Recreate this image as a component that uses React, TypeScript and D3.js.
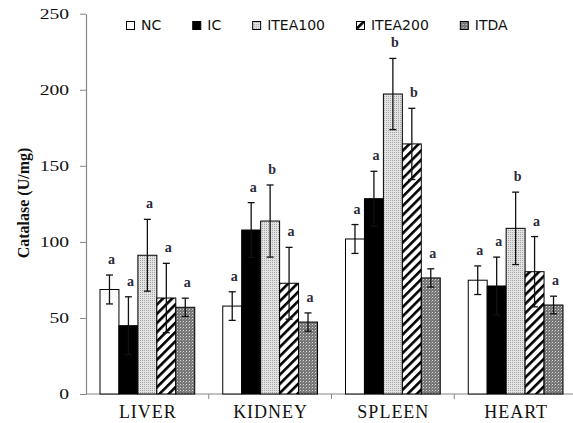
import React, { useEffect, useRef } from 'react';
import * as d3 from 'd3';

const categories = ['LIVER', 'KIDNEY', 'SPLEEN', 'HEART'];
const seriesNames = ['NC', 'IC', 'ITEA100', 'ITEA200', 'ITDA'];

// mean values per series, in category order
const ncValues = [68.7, 57.8, 101.9, 74.8];
const icValues = [44.9, 107.8, 128.4, 71];
const itea100Values = [91.2, 113.7, 197.2, 108.9];
const itea200Values = [63.1, 72.8, 164.4, 80.4];
const itdaValues = [57, 47.3, 76.3, 58.5];

// error bar half-lengths
const ncErrors = [9.5, 9.4, 9.5, 9.4];
const icErrors = [19, 18, 18, 19];
const itea100Errors = [23.6, 23.7, 23.4, 23.8];
const itea200Errors = [22.8, 23.6, 23.4, 23.1];
const itdaErrors = [6, 6, 6, 5.8];

// significance letters
const ncLetters = ['a', 'a', 'a', 'a'];
const icLetters = ['a', 'a', 'a', 'a'];
const itea100Letters = ['a', 'b', 'b', 'b'];
const itea200Letters = ['a', 'a', 'b', 'a'];
const itdaLetters = ['a', 'a', 'a', 'a'];

const yTicks = [0, 50, 100, 150, 200, 250];

const valueTable = [ncValues, icValues, itea100Values, itea200Values, itdaValues];
const errorTable = [ncErrors, icErrors, itea100Errors, itea200Errors, itdaErrors];
const letterTable = [ncLetters, icLetters, itea100Letters, itea200Letters, itdaLetters];

const AXIS = '#868686';
const fills: Record<string, string> = {
  NC: '#ffffff',
  IC: '#000000',
  ITEA100: 'url(#p-itea100)',
  ITEA200: 'url(#p-itea200)',
  ITDA: 'url(#p-itda)',
};

function drawChart(node: SVGSVGElement) {
  const svg = d3.select(node);
  svg.selectAll('*').remove();

  const left = 86;
  const bandWidth = 122.75;
  const x0 = d3.scaleBand<string>().domain(categories).range([left, left + bandWidth * categories.length]);
  const x1 = d3.scaleBand<string>().domain(seriesNames).range([14, bandWidth - 14]);
  const y = d3.scaleLinear().domain([0, 250]).range([394, 13.7]);

  const defs = svg.append('defs');

  const p100 = defs.append('pattern').attr('id', 'p-itea100').attr('patternUnits', 'userSpaceOnUse')
    .attr('width', 2).attr('height', 2);
  p100.append('rect').attr('width', 2).attr('height', 2).attr('fill', '#e2e2e2');
  p100.append('rect').attr('width', 1).attr('height', 1).attr('fill', '#a8a8a8');

  const p200 = defs.append('pattern').attr('id', 'p-itea200').attr('patternUnits', 'userSpaceOnUse')
    .attr('width', 6.5).attr('height', 6.5).attr('patternTransform', 'rotate(45)');
  p200.append('rect').attr('width', 6.5).attr('height', 6.5).attr('fill', '#ffffff');
  p200.append('rect').attr('width', 2.6).attr('height', 6.5).attr('fill', '#000000');

  const pda = defs.append('pattern').attr('id', 'p-itda').attr('patternUnits', 'userSpaceOnUse')
    .attr('width', 3).attr('height', 3);
  pda.append('rect').attr('width', 3).attr('height', 3).attr('fill', '#767676');
  pda.append('rect').attr('width', 1).attr('height', 1).attr('fill', '#d8d8d8');
  pda.append('rect').attr('x', 2).attr('y', 1).attr('width', 1).attr('height', 1).attr('fill', '#9a9a9a');

  // y axis (labels are stretched sideways like the source image)
  const stretch = 1.4;
  const yAxis = svg.append('g')
    .attr('transform', `translate(${left},0)`)
    .call(d3.axisLeft(y).tickValues(yTicks).tickSize(6).tickSizeOuter(0));
  yAxis.select('.domain').attr('stroke', AXIS).attr('stroke-width', 1.2);
  yAxis.selectAll('.tick line').attr('stroke', AXIS);
  yAxis.selectAll('.tick text')
    .attr('x', -17 / stretch)
    .attr('transform', `scale(${stretch},1)`)
    .attr('fill', '#111')
    .attr('font-family', '"Liberation Serif", "Times New Roman", serif')
    .attr('font-size', 14);

  svg.append('text')
    .attr('transform', `translate(23,203) rotate(-90)`)
    .attr('text-anchor', 'middle')
    .attr('dy', '0.35em')
    .attr('font-family', '"Liberation Serif", "Times New Roman", serif')
    .attr('font-weight', 700)
    .attr('font-size', 16)
    .attr('fill', '#111')
    .text('Catalase (U/mg)');

  // x axis
  const xEnd = left + bandWidth * categories.length;
  svg.append('line')
    .attr('x1', left).attr('x2', xEnd).attr('y1', y(0)).attr('y2', y(0))
    .attr('stroke', AXIS).attr('stroke-width', 1.2);
  svg.selectAll('.x-tick')
    .data(categories.slice(1))
    .join('line')
    .attr('class', 'x-tick')
    .attr('x1', (c) => x0(c)!).attr('x2', (c) => x0(c)!)
    .attr('y1', y(0)).attr('y2', y(0) + 5)
    .attr('stroke', AXIS);
  svg.selectAll('.x-label')
    .data(categories)
    .join('text')
    .attr('class', 'x-label')
    .attr('x', (c) => x0(c)! + x0.bandwidth() / 2 + 0.5)
    .attr('y', 418)
    .attr('text-anchor', 'middle')
    .attr('font-family', '"Liberation Serif", "Times New Roman", serif')
    .attr('font-size', 18)
    .attr('letter-spacing', 1)
    .attr('fill', '#111')
    .text((c) => c);

  // bars
  const rows = categories.flatMap((cat, ci) => seriesNames.map((s, si) => ({
    cat, s, value: valueTable[si][ci], err: errorTable[si][ci], letter: letterTable[si][ci],
  })));

  const bx = (d: { cat: string; s: string }) => x0(d.cat)! + x1(d.s)!;
  const w = x1.bandwidth();

  svg.selectAll('.bar')
    .data(rows)
    .join('rect')
    .attr('class', 'bar')
    .attr('x', (d) => bx(d))
    .attr('y', (d) => y(d.value))
    .attr('width', w)
    .attr('height', (d) => y(0) - y(d.value))
    .attr('fill', (d) => fills[d.s])
    .attr('stroke', '#000')
    .attr('stroke-width', 1);

  const err = svg.selectAll('.err').data(rows).join('g').attr('class', 'err')
    .attr('stroke', '#111').attr('stroke-width', 1.3);
  err.append('line')
    .attr('x1', (d) => bx(d) + w / 2).attr('x2', (d) => bx(d) + w / 2)
    .attr('y1', (d) => y(d.value + d.err)).attr('y2', (d) => y(d.value - d.err));
  err.append('line')
    .attr('x1', (d) => bx(d) + w / 2 - 3.5).attr('x2', (d) => bx(d) + w / 2 + 3.5)
    .attr('y1', (d) => y(d.value + d.err)).attr('y2', (d) => y(d.value + d.err));
  err.append('line')
    .attr('x1', (d) => bx(d) + w / 2 - 3.5).attr('x2', (d) => bx(d) + w / 2 + 3.5)
    .attr('y1', (d) => y(d.value - d.err)).attr('y2', (d) => y(d.value - d.err));

  svg.selectAll('.sig')
    .data(rows)
    .join('text')
    .attr('class', 'sig')
    .attr('x', (d) => bx(d) + w / 2 + 2)
    .attr('y', (d) => y(d.value + d.err) - 11)
    .attr('text-anchor', 'middle')
    .attr('font-family', '"Liberation Serif", "Times New Roman", serif')
    .attr('font-weight', 700)
    .attr('font-size', 14)
    .attr('fill', '#2a2a3a')
    .text((d) => d.letter);

  // legend, laid out from measured text widths
  const legend = svg.append('g').attr('transform', 'translate(126,0)');
  let cursor = 0;
  seriesNames.forEach((s) => {
    const item = legend.append('g').attr('transform', `translate(${cursor},0)`);
    item.append('rect')
      .attr('x', 0.5).attr('y', 21.5).attr('width', 8).attr('height', 8)
      .attr('fill', fills[s]).attr('stroke', '#000').attr('stroke-width', 1);
    const t = item.append('text')
      .attr('x', 15).attr('y', 29.5)
      .attr('font-family', '"DejaVu Sans", Verdana, sans-serif')
      .attr('font-size', 14)
      .attr('fill', '#111')
      .text(s);
    const tw = (t.node() as SVGTextElement).getComputedTextLength();
    cursor += 15 + tw + 31;
  });
}

export default function App() {
  const ref = useRef<SVGSVGElement>(null);
  useEffect(() => {
    if (ref.current) drawChart(ref.current);
  }, []);
  return (
    <svg
      ref={ref}
      width={573}
      height={423}
      style={{ position: 'absolute', left: 0, top: 0, background: '#fff' }}
    />
  );
}
